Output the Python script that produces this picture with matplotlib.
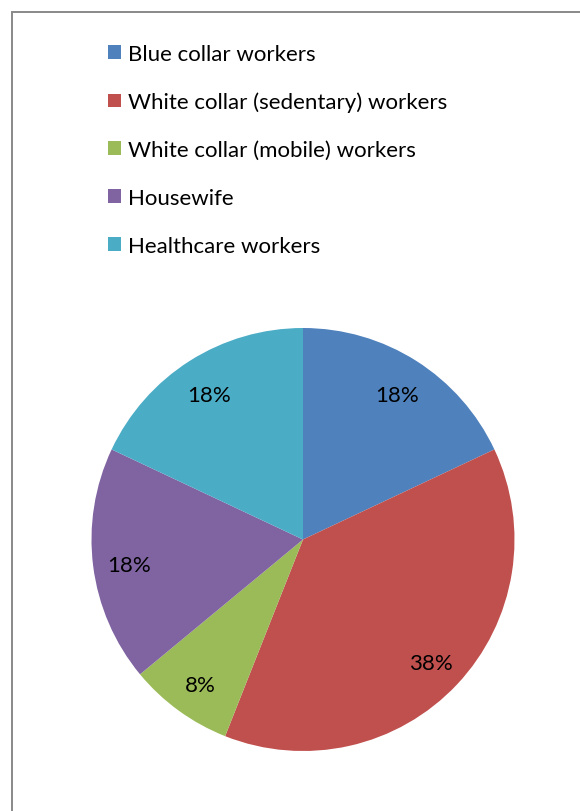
import matplotlib
matplotlib.use("Agg")
import matplotlib.pyplot as plt
from matplotlib.patches import Rectangle
from matplotlib.transforms import offset_copy

categories = ["Blue collar workers", "White collar (sedentary) workers",
              "White collar (mobile) workers", "Housewife", "Healthcare workers"]
values = [18, 38, 8, 18, 18]
colors = ["#4F81BD", "#C0504D", "#9BBB59", "#8064A2", "#4BACC6"]

W, H = 580, 812
plt.rcParams['font.family'] = ['Lato', 'DejaVu Sans']
fig = plt.figure(figsize=(W / 100, H / 100), dpi=100)
fig.patch.set_facecolor("white")

# outer frame (partly cut by image edge)
fig.add_artist(Rectangle((12 / W, -0.1), 1.2, (H - 13) / H + 0.1,
                         transform=fig.transFigure, fill=False,
                         edgecolor="#898989", linewidth=1.4))

cx, cy, r = 303, 540.5, 211.5
ax = fig.add_axes([(cx - r) / W, (H - cy - r) / H, 2 * r / W, 2 * r / H])
wedges, texts, autotexts = ax.pie(values, colors=colors, startangle=90,
                                  counterclock=False, radius=1,
                                  autopct=lambda p: f"{p:.0f}%",
                                  pctdistance=0.83,
                                  textprops=dict(fontsize=16, color="black"))
shifted = offset_copy(ax.transData, fig=fig, x=0, y=-3.5, units="dots")
for t in autotexts:
    t.set_transform(shifted)
ax.set_xlim(-1, 1)
ax.set_ylim(-1, 1)
ax.set_aspect("equal")
ax.axis("off")

fig.legend(wedges, categories, loc="upper left",
           bbox_to_anchor=(108 / W, (H - 45) / H),
           frameon=False, fontsize=16, handlelength=0.58, handleheight=0.58,
           handletextpad=0.32, labelspacing=1.25, borderaxespad=0, borderpad=0)

fig.savefig("out.png", dpi=100, facecolor="white")
